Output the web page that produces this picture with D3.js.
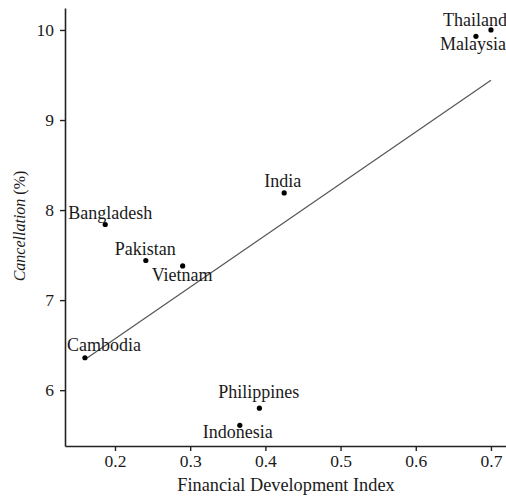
<!DOCTYPE html>
<html>
<head>
<meta charset="utf-8">
<script src="https://cdn.jsdelivr.net/npm/d3@7"></script>
<style>
  html, body { margin: 0; padding: 0; background: #fff; }
  svg { display: block; }
  text { font-family: "Liberation Serif", "Times New Roman", serif; fill: #1a1a1a; }
</style>
</head>
<body>
<svg id="chart" width="506" height="499"></svg>
<script>
// Country observations: financial development index vs. cancellation rate
const countries = ["Thailand", "Malaysia", "India", "Bangladesh", "Pakistan", "Vietnam", "Cambodia", "Philippines", "Indonesia"];
const fdIndex = [0.700, 0.680, 0.425, 0.187, 0.241, 0.290, 0.160, 0.392, 0.366];
const cancellation = [10.00, 9.93, 8.19, 7.84, 7.44, 7.38, 6.36, 5.80, 5.61];

const xTicks = [0.2, 0.3, 0.4, 0.5, 0.6, 0.7];
const yTicks = [6, 7, 8, 9, 10];

// Label placement (pixel offset of the text start from its marker)
const labelOffsets = {
  Thailand: [-48, -4], Malaysia: [-36, 14], India: [-20, -6],
  Bangladesh: [-37, -5.5], Pakistan: [-31, -5], Vietnam: [-31, 15],
  Cambodia: [-18, -6.5], Philippines: [-41, -10], Indonesia: [-37, 12.5]
};

const svg = d3.select("#chart");
const plotLeft = 65, plotRight = 506, plotTop = 8, plotBottom = 446;

const x = d3.scaleLinear().domain([0.1335, 0.72]).range([plotLeft, plotRight]);
const y = d3.scaleLinear().domain([5.38, 10.244]).range([plotBottom, plotTop]);

// Axes
const xAxis = d3.axisBottom(x).tickValues(xTicks).tickFormat(d3.format(".1f")).tickSize(5).tickSizeOuter(0).tickPadding(4);
const yAxis = d3.axisLeft(y).tickValues(yTicks).tickFormat(d3.format("d")).tickSize(5).tickSizeOuter(0).tickPadding(6);

const gx = svg.append("g").attr("transform", `translate(0,${plotBottom})`).call(xAxis);
const gy = svg.append("g").attr("transform", `translate(${plotLeft},0)`).call(yAxis);

[gx, gy].forEach(g => {
  g.select(".domain").attr("stroke", "#222").attr("stroke-width", 1.6);
  g.selectAll(".tick line").attr("stroke", "#222").attr("stroke-width", 1.4);
  g.selectAll(".tick text")
    .style("font-family", '"Liberation Serif", "Times New Roman", serif')
    .style("font-size", "17.5px").attr("fill", "#333");
});

// Axis titles
svg.append("text")
  .attr("x", 286).attr("y", 491)
  .attr("text-anchor", "middle")
  .style("font-size", "18.3px").attr("fill", "#222")
  .text("Financial Development Index");

const yt = svg.append("text")
  .attr("transform", "translate(25,226) rotate(-90)")
  .attr("text-anchor", "middle")
  .style("font-size", "16px").attr("fill", "#222");
yt.append("tspan").style("font-style", "italic").text("Cancellation");
yt.append("tspan").text(" (%)");

// Least-squares fit line across the observed range
const pts = countries.map((c, i) => ({ name: c, fx: fdIndex[i], cy: cancellation[i] }));
const mx = d3.mean(pts, d => d.fx), my = d3.mean(pts, d => d.cy);
const slope = d3.sum(pts, d => (d.fx - mx) * (d.cy - my)) / d3.sum(pts, d => (d.fx - mx) ** 2);
const intercept = my - slope * mx;
const xr = d3.extent(fdIndex);
svg.append("line")
  .attr("x1", x(xr[0])).attr("y1", y(intercept + slope * xr[0]))
  .attr("x2", x(xr[1])).attr("y2", y(intercept + slope * xr[1]))
  .attr("stroke", "#555").attr("stroke-width", 1.2);

// Markers
svg.append("g").selectAll("circle").data(pts).join("circle")
  .attr("cx", d => x(d.fx)).attr("cy", d => y(d.cy))
  .attr("r", 2.6).attr("fill", "#000");

// Country labels
svg.append("g").selectAll("text").data(pts).join("text")
  .attr("x", d => x(d.fx) + labelOffsets[d.name][0])
  .attr("y", d => y(d.cy) + labelOffsets[d.name][1])
  .style("font-size", "18px").attr("fill", "#222")
  .text(d => d.name);
</script>
</body>
</html>
